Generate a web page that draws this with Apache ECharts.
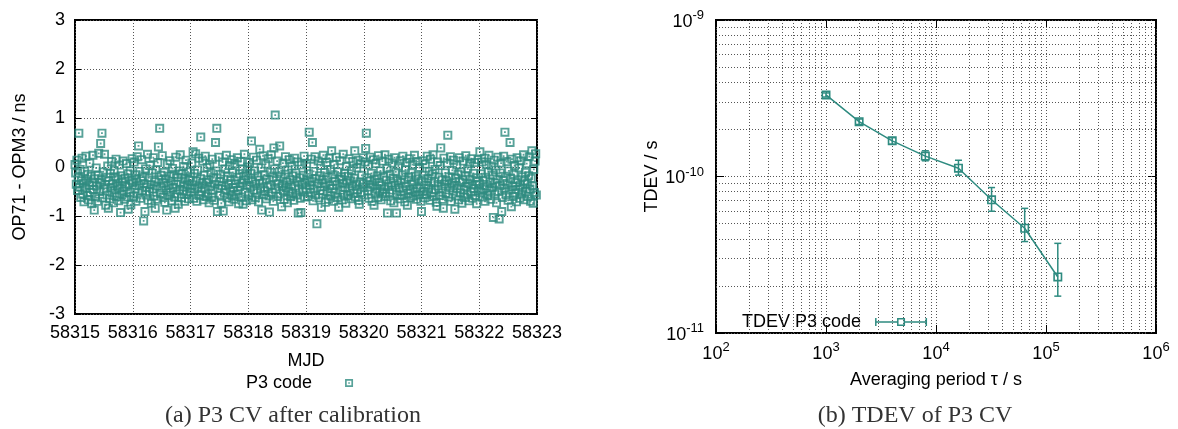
<!DOCTYPE html>
<html>
<head>
<meta charset="utf-8">
<script src="https://cdn.jsdelivr.net/npm/echarts@6/dist/echarts.min.js"></script>
<style>
html,body{margin:0;padding:0;background:#fff;}
#chart{width:1178px;height:429px;}
</style>
</head>
<body>
<div id="chart"></div>
<script>
// ---------------- DATA ----------------
// (a) P3 CV after calibration: OP71 - OPM3 in ns, one array per MJD day (16-min tracks, 90 per day)
const MJD_START = 58315;
const TRACKS_PER_DAY = 90;
const p3Day58315 = [0.05,-0.12,-0.35,0.14,-0.48,-0.22,0.69,-0.41,-0.05,-0.62,-0.28,0.18,-0.55,-0.33,-0.71,-0.09,-0.44,0.22,-0.26,-0.58,-0.15,-0.67,-0.37,0.08,-0.52,-0.19,-0.75,-0.31,0.24,-0.46,-0.88,-0.24,-0.6,-0.02,-0.39,-0.7,-0.17,0.28,-0.5,-0.32,0.48,-0.27,0.69,-0.63,-0.1,-0.45,0.26,-0.36,-0.78,-0.21,-0.57,0.02,-0.84,-0.29,-0.65,-0.13,-0.42,0.11,-0.53,-0.34,-0.73,-0.07,-0.47,-0.2,0.16,-0.6,-0.38,-0.25,-0.69,0.04,-0.43,-0.93,-0.18,-0.56,-0.3,0.12,-0.49,-0.66,-0.23,-0.4,0.07,-0.61,-0.14,-0.86,-0.35,-0.52,-0.08,-0.77,-0.27,0.17];
const p3Day58316 = [-0.32,-0.6,0.1,-0.44,-0.16,-0.7,-0.25,0.21,-0.53,0.43,-0.37,-0.09,-0.64,-0.28,0.15,-0.48,-0.2,-1.1,-0.34,-0.91,-0.04,-0.57,-0.41,0.26,-0.68,-0.22,-0.5,0.03,-0.36,-0.74,-0.12,-0.45,0.19,-0.59,-0.3,-0.84,-0.06,-0.39,-0.66,0.09,0.41,-0.26,0.79,-0.54,-0.17,-0.43,0.23,-0.62,-0.33,-0.11,-0.72,-0.24,-0.47,-0.88,0.06,-0.38,-0.58,-0.19,0.13,-0.51,-0.29,-0.69,-0.03,-0.42,-0.15,-0.61,-0.84,0.2,-0.35,-0.55,-0.21,-0.76,-0.08,-0.46,0.25,-0.31,-0.63,-0.14,-0.49,0.01,-0.4,-0.7,-0.23,0.14,-0.56,-0.36,-0.1,-0.65,-0.27,-0.44];
const p3Day58317 = [-0.2,-0.52,0.08,-0.37,0.31,-0.64,-0.13,-0.45,0.27,-0.29,-0.7,-0.06,-0.41,0.18,-0.58,-0.24,0.61,-0.5,-0.33,0.12,-0.67,-0.17,-0.43,0.22,-0.6,-0.31,-0.01,-0.55,-0.26,-0.73,0.05,-0.39,-0.12,-0.62,0.16,-0.47,-0.22,-0.68,-0.35,0.5,-0.08,0.79,-0.91,-0.44,0.2,-0.3,-0.57,-0.15,-0.74,-0.38,0.1,-0.9,-0.25,-0.53,-0.04,-0.46,0.24,-0.63,-0.19,-0.36,-0.71,0.03,-0.49,-0.28,0.15,-0.59,-0.11,-0.42,-0.66,0.07,-0.34,-0.56,-0.21,0.19,-0.48,-0.75,-0.14,-0.4,0.11,-0.61,-0.32,-0.05,-0.76,-0.27,0.26,-0.51,-0.18,-0.69,-0.37,0.0];
const p3Day58318 = [-0.23,-0.58,0.09,-0.4,-0.13,0.53,-0.67,-0.3,0.2,-0.47,-0.08,-0.62,-0.35,0.14,-0.53,-0.19,-0.71,-0.27,0.36,-0.44,-0.02,-0.88,-0.33,0.23,-0.56,-0.16,-0.49,0.06,-0.65,-0.25,-0.41,0.17,-0.59,-0.92,-0.11,-0.37,0.25,-0.52,-0.21,-0.7,0.39,-0.04,1.06,-0.45,-0.28,0.12,-0.6,-0.34,-0.1,0.43,-0.55,-0.2,-0.81,-0.38,0.08,-0.48,-0.66,-0.15,0.21,-0.42,-0.31,-0.73,-0.06,-0.5,0.15,-0.26,-0.6,-0.36,0.02,-0.54,-0.18,-0.68,0.18,-0.39,-0.12,-0.57,-0.29,0.1,-0.94,-0.46,-0.22,-0.64,-0.93,0.04,-0.35,-0.51,-0.17,0.22,-0.61,-0.32];
const p3Day58319 = [-0.43,0.07,-0.26,-0.6,-0.14,0.71,-0.37,-0.52,0.16,-0.3,0.5,-0.69,-0.09,-0.45,0.21,-0.57,-0.24,-1.16,-0.34,0.12,-0.63,-0.18,-0.48,0.03,-0.82,-0.27,-0.55,0.24,-0.4,-0.11,-0.72,-0.32,0.09,-0.5,-0.21,-0.66,0.18,-0.38,-0.05,-0.59,0.33,-0.44,-0.16,-0.7,0.05,-0.29,-0.53,0.2,-0.36,-0.62,-0.1,-0.82,-0.25,0.13,-0.47,-0.2,-0.67,-0.33,0.26,-0.56,-0.12,-0.42,-0.74,0.01,-0.31,-0.58,-0.19,0.17,-0.49,-0.28,-0.65,-0.07,-0.39,0.11,-0.54,-0.23,0.33,-0.61,-0.35,-0.02,-0.46,0.14,-0.68,-0.76,-0.3,0.06,-0.52,-0.17,-0.41,0.19];
const p3Day58320 = [-0.34,-0.57,0.1,0.38,0.69,-0.22,-0.48,0.04,-0.64,-0.29,0.2,-0.41,-0.13,-0.7,-0.36,0.15,-0.78,-0.25,-0.53,0.07,-0.44,-0.18,-0.62,0.23,-0.31,-0.5,-0.08,-0.67,-0.38,0.12,-0.55,-0.2,-0.45,0.25,-0.6,-0.27,-0.03,-0.94,-0.4,0.16,-0.52,-0.15,-0.69,-0.33,0.08,-0.47,-0.23,-0.73,0.19,-0.37,-0.1,-0.94,-0.56,-0.28,0.02,-0.43,-0.65,0.13,-0.32,-0.58,-0.16,0.22,-0.49,-0.26,-0.71,-0.06,-0.39,0.09,-0.78,-0.54,-0.21,0.17,-0.46,-0.63,-0.12,-0.35,0.05,-0.59,-0.3,0.24,-0.51,-0.19,-0.66,-0.42,0.11,-0.24,-0.57,-0.01,-0.45,-0.7];
const p3Day58321 = [-0.91,-0.28,0.13,-0.5,-0.17,-0.63,0.06,-0.37,-0.56,0.22,-0.24,-0.44,-0.09,-0.68,0.16,-0.33,-0.52,-0.14,0.25,-0.6,-0.3,-0.05,-0.47,-0.72,-0.8,0.1,-0.39,-0.21,-0.58,0.03,0.39,-0.45,-0.26,-0.66,-0.84,0.18,-0.35,-0.12,-0.54,-0.29,0.08,0.65,-0.61,-0.2,-0.42,0.21,-0.7,-0.32,-0.07,-0.49,0.14,-0.38,-0.86,-0.23,-0.59,0.04,-0.43,-0.15,-0.67,0.19,-0.31,-0.53,-0.1,-0.74,-0.27,0.12,-0.46,-0.62,-0.18,0.23,-0.4,-0.57,-0.04,-0.34,-0.69,0.07,-0.25,-0.51,0.17,-0.36,-0.64,-0.13,-0.44,0.09,-0.58,-0.22,-0.75,-0.3,0.15,-0.48];
const p3Day58322 = [-0.35,0.31,-0.52,-0.14,0.1,-0.61,-0.27,-0.45,0.18,-0.7,-0.21,0.05,-0.39,-0.58,-0.1,0.24,-0.48,-0.3,-0.66,0.02,-0.42,-0.17,-1.03,0.14,-0.55,-0.33,-0.06,-0.73,-0.25,0.2,-0.5,-1.06,-0.38,-0.12,0.08,-0.91,-0.62,-0.28,0.22,-0.44,0.71,-0.19,-0.57,0.11,-0.36,-0.68,-0.08,-0.47,0.5,-0.24,-0.81,0.16,-0.4,-0.6,-0.15,0.03,-0.53,-0.32,-0.71,0.19,-0.26,-0.46,-0.02,-0.64,-0.37,0.13,-0.55,-0.2,-0.43,0.25,-0.67,-0.29,-0.11,-0.5,0.07,-0.34,-0.6,-0.18,0.21,-0.45,-0.7,-0.23,0.33,-0.39,-0.74,-0.05,-0.52,0.12,0.27,-0.57];
const p3Days = [p3Day58315, p3Day58316, p3Day58317, p3Day58318, p3Day58319, p3Day58320, p3Day58321, p3Day58322];

// (b) TDEV of P3 CV
const tauSeconds = [1000, 2000, 4000, 8000, 16000, 32000, 64000, 128000];
const tdevValues = [3.32e-10, 2.24e-10, 1.69e-10, 1.35e-10, 1.13e-10, 7.1e-11, 4.67e-11, 2.28e-11];
const tdevLower  = [3.22e-10, 2.15e-10, 1.61e-10, 1.26e-10, 1.02e-10, 6.0e-11, 3.84e-11, 1.72e-11];
const tdevUpper  = [3.42e-10, 2.33e-10, 1.77e-10, 1.46e-10, 1.27e-10, 8.5e-11, 6.26e-11, 3.74e-11];

// ---------------- CHART ----------------
const FONT = '"Liberation Sans", Arial, Helvetica, sans-serif';
const SERIF = '"Liberation Serif", "Times New Roman", serif';
const TEAL = '#2e8b80';
const GRIDLINE = {color: '#555', type: [1, 2], width: 1};
const BOXDOT = 'path://M0,0H10V10H0Z M2.1,2.1V7.9H7.9V2.1Z M4,4H6V6H4Z';
const BOX = 'path://M0,0H10V10H0Z M1.8,1.8V8.2H8.2V1.8Z';
const ERRKEY = 'path://M0,0H1.5V8H0Z M50.5,0H52V8H50.5Z M0,3.25H22V4.75H0Z M30,3.25H52V4.75H30Z M22,0H30V8H22Z M23.5,1.5V6.5H28.5V1.5Z';

const scatterData = [];
p3Days.forEach((arr, d) => arr.forEach((v, i) => scatterData.push([MJD_START + d + i / TRACKS_PER_DAY, v])));

const tdevData = tauSeconds.map((t, i) => [t, tdevValues[i]]);
const errData = tauSeconds.map((t, i) => [t, tdevLower[i], tdevUpper[i]]);

const minorX = [];
[100, 1000, 10000, 100000].forEach(d => { for (let k = 2; k <= 9; k++) minorX.push({xAxis: k * d}); });
const minorY = [];
[1e-11, 1e-10].forEach(d => { for (let k = 2; k <= 9; k++) minorY.push({yAxis: k * d}); });

const textBase = {color: '#000', fontFamily: FONT, fontSize: 18};
const richLabel = {
  b: {color: '#000', fontFamily: FONT, fontSize: 18, verticalAlign: 'bottom'},
  s: {color: '#000', fontFamily: FONT, fontSize: 13, verticalAlign: 'bottom', padding: [0, 0, 9, 0]}
};
const expFmt = v => '{b|10}{s|' + Math.round(Math.log10(v)) + '}';

function mirror(base, pos) {
  return Object.assign({}, base, {
    position: pos, name: '', axisLabel: {show: false}, splitLine: {show: false}
  });
}

const xLin = {
  type: 'value', gridIndex: 0, min: 58315, max: 58323, interval: 1,
  axisLine: {show: false},
  axisTick: {inside: true, length: 6, lineStyle: {color: '#000', width: 1}},
  axisLabel: Object.assign({margin: 10, formatter: v => String(v)}, textBase),
  splitLine: {show: true, lineStyle: GRIDLINE},
  name: 'MJD', nameLocation: 'middle', nameGap: 38, nameTextStyle: textBase
};
const yLin = {
  type: 'value', gridIndex: 0, min: -3, max: 3, interval: 1,
  axisLine: {show: false},
  axisTick: {inside: true, length: 6, lineStyle: {color: '#000', width: 1}},
  axisLabel: Object.assign({margin: 10}, textBase),
  splitLine: {show: true, lineStyle: GRIDLINE},
  name: 'OP71 - OPM3 / ns', nameLocation: 'middle', nameGap: 46, nameRotate: 90, nameTextStyle: textBase
};
const xLog = {
  type: 'log', logBase: 10, gridIndex: 1, min: 100, max: 1000000,
  axisLine: {show: false},
  axisTick: {inside: true, length: 8, lineStyle: {color: '#000', width: 1}},
  axisLabel: {margin: 8, formatter: expFmt, rich: richLabel},
  splitLine: {show: true, lineStyle: GRIDLINE},
  name: 'Averaging period \u03c4 / s', nameLocation: 'middle', nameGap: 38, nameTextStyle: textBase
};
const yLog = {
  type: 'log', logBase: 10, gridIndex: 1, min: 1e-11, max: 1e-9,
  axisLine: {show: false},
  axisTick: {inside: true, length: 8, lineStyle: {color: '#000', width: 1}},
  axisLabel: {margin: 12, formatter: expFmt, rich: richLabel},
  splitLine: {show: true, lineStyle: GRIDLINE},
  name: 'TDEV / s', nameLocation: 'middle', nameGap: 54, nameRotate: 90, nameTextStyle: textBase
};

const option = {
  animation: false,
  backgroundColor: '#fff',
  title: [
    {text: '(a) P3 CV after calibration', left: 288, top: 399, textAlign: 'center',
     textStyle: {fontFamily: SERIF, fontSize: 24, fontWeight: 'normal', color: '#333'}},
    {text: '(b) TDEV of P3 CV', left: 910, top: 399, textAlign: 'center',
     textStyle: {fontFamily: SERIF, fontSize: 24, fontWeight: 'normal', color: '#333'}}
  ],
  legend: [
    {data: [{name: 'P3 code', icon: BOXDOT}], left: 241, top: 369, align: 'right', orient: 'horizontal',
     itemWidth: 8, itemHeight: 8, selectedMode: false, itemStyle: {borderWidth: 0},
     textStyle: Object.assign({padding: [0, 28, 0, 0]}, textBase)},
    {data: [{name: 'TDEV P3 code', icon: ERRKEY}], left: 737, top: 308, align: 'right',
     itemWidth: 52, itemHeight: 8, selectedMode: false, itemStyle: {borderWidth: 0},
     textStyle: Object.assign({padding: [0, 9, 0, 0]}, textBase)}
  ],
  grid: [
    {left: 75, top: 20, width: 462, height: 294, show: true, borderColor: '#000', borderWidth: 2, backgroundColor: 'transparent', containLabel: false},
    {left: 716, top: 20, width: 440, height: 313, show: true, borderColor: '#000', borderWidth: 2, backgroundColor: 'transparent', containLabel: false}
  ],
  xAxis: [xLin, mirror(xLin, 'top'), xLog, mirror(xLog, 'top')],
  yAxis: [yLin, mirror(yLin, 'right'), yLog, mirror(yLog, 'right')],
  series: [
    {
      name: 'P3 code', type: 'scatter', xAxisIndex: 0, yAxisIndex: 0,
      symbol: BOXDOT, symbolSize: 9, progressive: 0,
      itemStyle: {color: TEAL, borderWidth: 0},
      data: scatterData, z: 3, silent: true
    },
    {
      name: 'TDEV P3 code', type: 'line', xAxisIndex: 2, yAxisIndex: 2,
      symbol: BOX, symbolSize: 9, showAllSymbol: true,
      lineStyle: {color: TEAL, width: 1.5},
      itemStyle: {color: TEAL, borderWidth: 0},
      data: tdevData, z: 4, silent: true,
      markLine: {
        silent: true, symbol: ['none', 'none'], label: {show: false}, precision: 20,
        lineStyle: GRIDLINE, emphasis: {disabled: true}, z: 1,
        data: minorX.concat(minorY)
      }
    },
    {
      name: 'TDEV P3 code', type: 'custom', xAxisIndex: 2, yAxisIndex: 2,
      data: errData, z: 4, silent: true,
      encode: {x: 0, y: [1, 2]},
      renderItem: function (params, api) {
        const x = api.value(0);
        const lo = api.coord([x, api.value(1)]);
        const hi = api.coord([x, api.value(2)]);
        const w = 3.5;
        const st = {stroke: TEAL, lineWidth: 1.5};
        return {
          type: 'group',
          children: [
            {type: 'line', shape: {x1: lo[0], y1: lo[1], x2: hi[0], y2: hi[1]}, style: st},
            {type: 'line', shape: {x1: lo[0] - w, y1: lo[1], x2: lo[0] + w, y2: lo[1]}, style: st},
            {type: 'line', shape: {x1: hi[0] - w, y1: hi[1], x2: hi[0] + w, y2: hi[1]}, style: st}
          ]
        };
      }
    }
  ]
};

const chart = echarts.init(document.getElementById('chart'), null, {renderer: 'canvas'});
chart.setOption(option);
</script>
</body>
</html>
